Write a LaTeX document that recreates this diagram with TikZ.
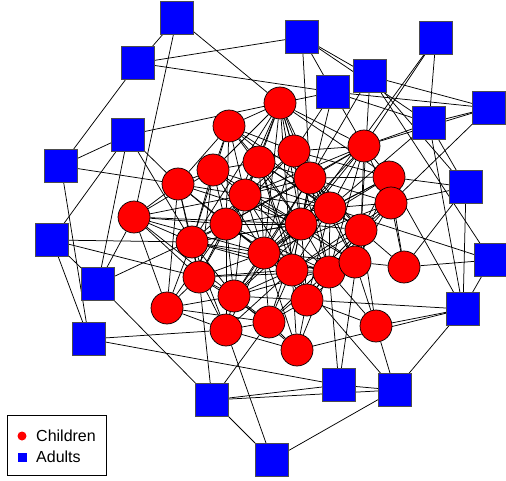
\documentclass[tikz,border=0pt]{standalone}
\usepackage{fontspec}
\setmainfont{Liberation Sans}
\pgfdeclarelayer{bg}
\pgfsetlayers{bg,main}
\definecolor{pureblue}{RGB}{0,0,255}
\definecolor{purered}{RGB}{255,0,0}
\tikzset{
  kid/.style={circle, fill=purered, draw=black, line width=0.7pt, minimum size=32pt, inner sep=0pt},
  adult/.style={rectangle, fill=pureblue, draw=black!70, line width=0.7pt, minimum size=33pt, inner sep=0pt},
  tie/.style={draw=black, line width=0.75pt},
}
\begin{document}
\begin{tikzpicture}[x=1pt,y=-1pt]
\useasboundingbox (0,0) rectangle (506,481);
% adults
\foreach \n/\x/\y in {1/177/18,2/138/63,3/302/37,4/436/38,5/333/92,6/370/76,7/489/108,8/429/123,9/128/135,10/61/166,11/466/187,12/52/240,13/491/260,14/98/284,15/463/309,16/89/339,17/212/400,18/339/385,19/395/390,20/272/460}
  \node[adult] (A\n) at (\x,\y) {};
% children
\foreach \n/\x/\y in {1/280/103,2/229/126,3/364/146,4/213/170,5/259/162,6/294/151,7/178/184,8/245/195,9/310/178,10/389/177,11/134/217,12/226/224,13/301/224,14/330/208,15/391/203,16/192/242,17/264/253,18/361/230,19/199/277,20/292/270,21/329/272,22/355/262,23/404/267,24/167/308,25/234/296,26/307/300,27/269/322,28/226/330,29/376/326,30/297/350}
  \node[kid] (C\n) at (\x,\y) {};
\begin{pgfonlayer}{bg}
% adult links
\foreach \a/\b in {A1/A2,A1/C11,A1/C1,A2/A3,A2/A5,A2/A10,A9/A10,A9/C1,A9/A12,A9/A14,A9/C16,A9/C7,A10/C7,A10/A16,A12/C16,A12/C19,A12/A16,A12/A14,A14/C12,A14/C11,A14/A17,A16/C28,A16/A18,A17/C19,A17/C27,A17/A18,A17/A19,A17/A20,A20/C28,A20/A19,A18/C21,A18/C18,A18/A19,A19/C29,A19/A15,A19/C20,A15/C29,A15/C30,A15/C26,A15/A13,A15/A11,A15/A8,A15/C10,A13/C23,A13/C14,A13/A6,A11/C10,A11/C15,A11/A8,A11/C23,A7/A6,A7/A5,A7/A8,A7/C3,A7/C15,A4/C3,A4/C13,A4/A8,A3/A6,A3/A8,A3/C9,A3/A5,A5/C1,A5/C6,A5/C3,A5/A8,A6/C9,A6/A11,A8/C3,A8/C14,A5/C13,A6/C18}
  \draw[tie] (\a) -- (\b);
% child links
\foreach \a/\b in {1/2,1/3,1/4,1/5,1/6,1/8,1/9,1/12,1/13,1/14,1/17,1/20,1/10,1/16,1/21,
2/4,2/5,2/6,2/7,2/8,2/9,2/12,2/16,2/13,2/14,
3/6,3/9,3/10,3/14,3/15,3/17,3/18,3/13,3/8,3/21,3/12,
4/5,4/7,4/8,4/11,4/12,4/16,4/19,4/17,4/14,4/13,
5/6,5/8,5/9,5/12,5/13,5/17,5/20,5/14,5/26,5/18,
6/9,6/10,6/13,6/14,6/8,6/12,6/18,6/22,6/17,
7/11,7/8,7/12,7/16,7/19,7/24,7/13,7/17,
8/9,8/12,8/13,8/14,8/16,8/17,8/20,8/25,8/21,8/19,8/22,
9/10,9/13,9/14,9/15,9/17,9/18,9/21,9/12,9/25,9/20,
10/14,10/15,10/18,10/22,10/23,10/13,10/17,
11/12,11/16,11/19,11/24,11/17,11/25,11/8,11/13,
12/16,12/17,12/19,12/20,12/25,12/13,12/24,12/21,12/28,12/14,
13/14,13/17,13/20,13/21,13/18,13/22,13/26,13/25,13/27,13/16,
14/18,14/21,14/22,14/17,14/26,14/20,14/15,14/25,
15/18,15/22,15/23,15/21,15/20,15/17,
16/19,16/24,16/25,16/17,16/20,16/28,16/13,16/21,
17/20,17/25,17/26,17/27,17/19,17/21,17/28,17/22,17/30,
18/22,18/21,18/23,18/26,18/20,18/29,18/27,
19/24,19/25,19/28,19/27,19/20,19/21,
20/21,20/26,20/27,20/25,20/22,20/30,20/28,
21/22,21/26,21/29,21/27,21/30,
22/23,22/26,22/29,22/25,
24/28,24/25,24/27,
25/28,25/27,25/26,25/30,
26/27,26/30,26/29,27/28,27/30,28/30}
  \draw[tie] (C\a) -- (C\b);
\end{pgfonlayer}
% legend
\node[draw=black, line width=0.7pt, fill=white, minimum width=99pt, minimum height=60pt, inner sep=0pt] (legend) at (56.5,445) {};
\node[circle, fill=purered, minimum size=9pt, inner sep=0pt] (ldot) at (22,436) {};
\node[rectangle, fill=pureblue, minimum size=9pt, inner sep=0pt] (lsq) at (22,457) {};
\node[anchor=west, font=\fontsize{16}{18}\selectfont, inner sep=0pt] (lkid) at (36,436) {Children};
\node[anchor=west, font=\fontsize{16}{18}\selectfont, inner sep=0pt] (lad) at (36,457) {Adults};
\end{tikzpicture}
\end{document}
